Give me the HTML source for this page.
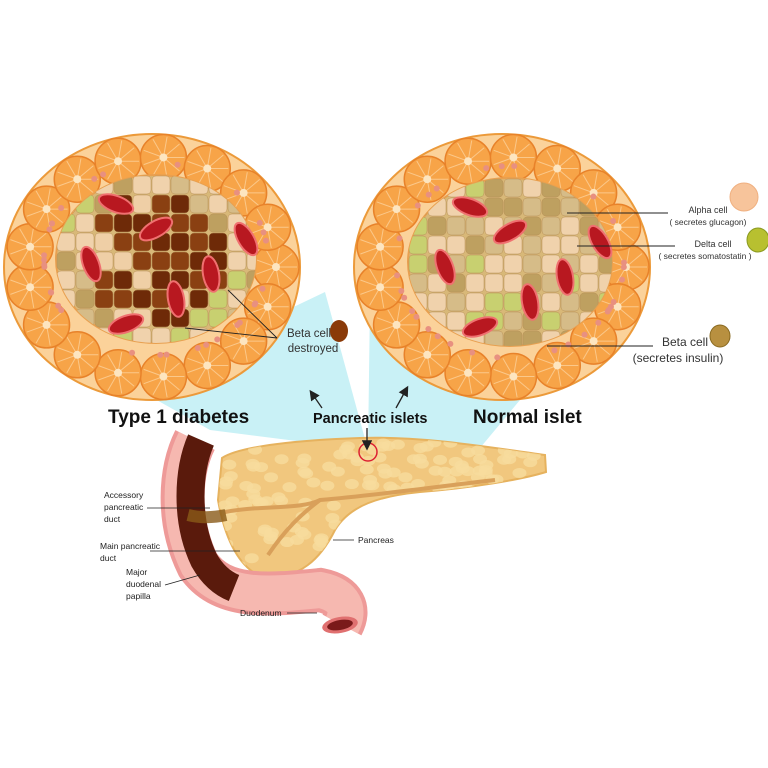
<!DOCTYPE html>
<html><head><meta charset="utf-8"><style>
html,body{margin:0;padding:0;background:#fff;}
svg{display:block;font-family:"Liberation Sans",sans-serif;}
</style></head><body>
<svg id="s" width="768" height="768" viewBox="0 0 768 768" xmlns="http://www.w3.org/2000/svg">
<defs>
<marker id="ah" markerWidth="8" markerHeight="8" refX="6" refY="4" orient="auto"><path d="M0,0 L8,4 L0,8 Z" fill="#222"/></marker>
<clipPath id="pc"><path d="M222,458 C240,446 300,440 360,438 C420,436 480,446 545,455 L546,472 C520,480 470,488 420,492 C380,496 350,505 335,530 C320,560 300,578 265,578 C240,570 225,540 218,500 Z"/></clipPath>
</defs>
<polygon points="368,450 325,292 130,385 210,430" fill="#c9f1f6"/>
<polygon points="368,450 370,300 545,370 480,448" fill="#c9f1f6"/>
<g id="isl"></g>
<path d="M222,458 C240,446 300,440 360,438 C420,436 480,446 545,455 L546,472 C520,480 470,488 420,492 C380,496 350,505 335,530 C320,560 300,578 265,578 C240,570 225,540 218,500 Z" fill="#f1c77e" stroke="#e6b25e" stroke-width="2"/>
<g id="lob" clip-path="url(#pc)"></g>
<path d="M225,512 C260,505 300,510 320,500 C380,495 450,485 495,480" stroke="#d9a05a" stroke-width="4" fill="none"/>
<path d="M320,500 C300,515 285,530 268,555" stroke="#d9a05a" stroke-width="4" fill="none"/>
<path d="M195,440 C180,470 176,520 198,565 C222,600 270,595 320,590 C345,595 350,610 342,625" stroke="#ee9a98" stroke-width="44" fill="none"/>
<path d="M195,440 C180,470 176,520 198,565 C222,600 270,595 320,590 C345,595 350,610 342,625" stroke="#f6b8b0" stroke-width="36" fill="none"/>
<path d="M201,440 C188,470 185,520 204,560 C213,576 224,584 234,588" stroke="#5a1a0c" stroke-width="28" fill="none"/>
<path d="M188,515 C200,518 212,518 226,515" stroke="#8a5a18" stroke-width="12" fill="none" opacity=".8"/>
<ellipse cx="340" cy="625" rx="18" ry="8" fill="#e07070" transform="rotate(-10 340 625)"/>
<ellipse cx="340" cy="625" rx="13" ry="5" fill="#7a1a1a" transform="rotate(-10 340 625)"/>
<circle cx="368" cy="452" r="9" fill="none" stroke="#d23" stroke-width="1.5"/>
<line x1="367" y1="428" x2="367" y2="448" stroke="#222" stroke-width="1.3" marker-end="url(#ah)"/>
<g font-size="8.5" fill="#222">
<text x="104" y="498">Accessory</text><text x="104" y="510">pancreatic</text><text x="104" y="522">duct</text>
<text x="100" y="549">Main pancreatic</text><text x="100" y="561">duct</text>
<text x="126" y="575">Major</text><text x="126" y="587">duodenal</text><text x="126" y="599">papilla</text>
<text x="240" y="616">Duodenum</text>
<text x="358" y="543">Pancreas</text>
</g>
<g stroke="#222" stroke-width="0.8">
<line x1="147" y1="508" x2="210" y2="508"/>
<line x1="150" y1="551" x2="240" y2="551"/>
<line x1="165" y1="585" x2="200" y2="575"/>
<line x1="287" y1="613" x2="317" y2="613"/>
<line x1="333" y1="540" x2="354" y2="540"/>
</g>
<text x="108" y="423" font-size="19" font-weight="bold" fill="#111">Type 1 diabetes</text>
<text x="313" y="423" font-size="14.5" font-weight="bold" fill="#111">Pancreatic islets</text>
<text x="473" y="423" font-size="19" font-weight="bold" fill="#111">Normal islet</text>
<line x1="322" y1="408" x2="311" y2="392" stroke="#222" stroke-width="1.3" marker-end="url(#ah)"/>
<line x1="396" y1="408" x2="407" y2="388" stroke="#222" stroke-width="1.3" marker-end="url(#ah)"/>
<g fill="#333" text-anchor="middle">
<text x="708" y="213" font-size="9">Alpha cell</text><text x="708" y="225" font-size="8.5">( secretes glucagon)</text>
<text x="713" y="247" font-size="9">Delta cell</text><text x="705" y="259" font-size="8.5">( secretes somatostatin )</text>
<text x="685" y="346" font-size="12">Beta cell</text><text x="678" y="362" font-size="12">(secretes insulin)</text>
<text x="309" y="337" font-size="11.5">Beta cell</text><text x="313" y="352" font-size="11.5">destroyed</text>
</g>
<g stroke="#222" stroke-width="0.9">
<line x1="567" y1="213" x2="668" y2="213"/>
<line x1="577" y1="246" x2="675" y2="246"/>
<line x1="547" y1="346" x2="653" y2="346"/>
<line x1="277" y1="338" x2="228" y2="290"/>
<line x1="277" y1="338" x2="185" y2="328"/>
</g>
<ellipse cx="744" cy="197" rx="14" ry="14" fill="#f7c49b" stroke="#f0b080"/>
<ellipse cx="758" cy="240" rx="11" ry="12" fill="#b8c030" stroke="#8a9a20"/>
<ellipse cx="720" cy="336" rx="10" ry="11" fill="#b89040" stroke="#8a6a20"/>
<ellipse cx="339" cy="331" rx="9" ry="11" fill="#8a3a08"/>
</svg>
<script>
var NS="http://www.w3.org/2000/svg",g=document.getElementById('isl');
function el(t,a,p){var e=document.createElementNS(NS,t);for(var k in a)e.setAttribute(k,a[k]);(p||g).appendChild(e);return e;}
var seed=7;function rnd(){seed=(seed*9301+49297)%233280;return seed/233280;}
function islet(cx,cy,ix,iy,irx,iry,t1){
 el('ellipse',{cx:cx,cy:cy,rx:148,ry:133,fill:'#fbd29a',stroke:'#ec9a3a','stroke-width':2});
 var n=17;
 for(var i=0;i<n;i++){var a=i/n*2*Math.PI;var x=cx+124*Math.cos(a),y=cy+110*Math.sin(a);
  el('circle',{cx:x,cy:y,r:23,fill:'#f7a448',stroke:'#e8822a','stroke-width':1.5});
  for(var j=0;j<9;j++){var b=j/9*2*Math.PI;el('line',{x1:x,y1:y,x2:x+21*Math.cos(b),y2:y+21*Math.sin(b),stroke:'#fbc88a','stroke-width':1});}
  el('circle',{cx:x,cy:y,r:4,fill:'#fde5c0'});}
 for(var i=0;i<30;i++){var a=rnd()*6.28;el('circle',{cx:cx+(irx+12)*Math.cos(a)+(ix-cx),cy:cy+(iry+12)*Math.sin(a)+(iy-cy),r:3,fill:'#e89080'});}
 el('ellipse',{cx:ix,cy:iy,rx:irx,ry:iry,fill:'#d8b878',stroke:'#e8a050','stroke-width':2});
 var cp=el('clipPath',{id:'c'+cx});el('ellipse',{cx:ix,cy:iy,rx:irx,ry:iry},cp);
 var gg=el('g',{'clip-path':'url(#c'+cx+')'});
 for(var y=iy-iry;y<iy+iry;y+=19)for(var x=ix-irx;x<ix+irx;x+=19){
  var dx=(x+9-ix)/irx,dy=(y+9-iy)/iry,d=Math.sqrt(dx*dx+dy*dy),r=rnd(),c;
  if(t1&&d<0.75)c=r<0.82?(r<0.4?'#6e2a08':'#8a4012'):'#efcfa6';
  else c=r<0.15?'#c8d070':r<0.5?'#f0d2ac':r<0.78?'#d6bc88':'#bea060';
  el('rect',{x:x+1,y:y+1,width:18,height:18,rx:4,fill:c,stroke:'#b89058','stroke-width':.5},gg);}
 var rb=[[-40,-55,20],[0,-30,-30],[-65,5,70],[55,15,80],[20,40,80],[-30,65,-20],[90,-20,60]];
 rb.forEach(function(p){el('ellipse',{cx:ix+p[0],cy:iy+p[1],rx:18,ry:8,fill:'#b81820',stroke:'#f07070','stroke-width':2,transform:'rotate('+p[2]+' '+(ix+p[0])+' '+(iy+p[1])+')'});});
}
islet(152,267,156,259,100,84,true);
islet(502,267,510,262,102,84,false);
var lob=document.getElementById('lob');
for(var i=0;i<130;i++){var x=225+rnd()*320,y=442+rnd()*50+(x<340?rnd()*85:0);
 el('ellipse',{cx:x,cy:y,rx:7,ry:5,fill:'#f8dc9e',opacity:.8},lob);}
</script>
</body></html>
